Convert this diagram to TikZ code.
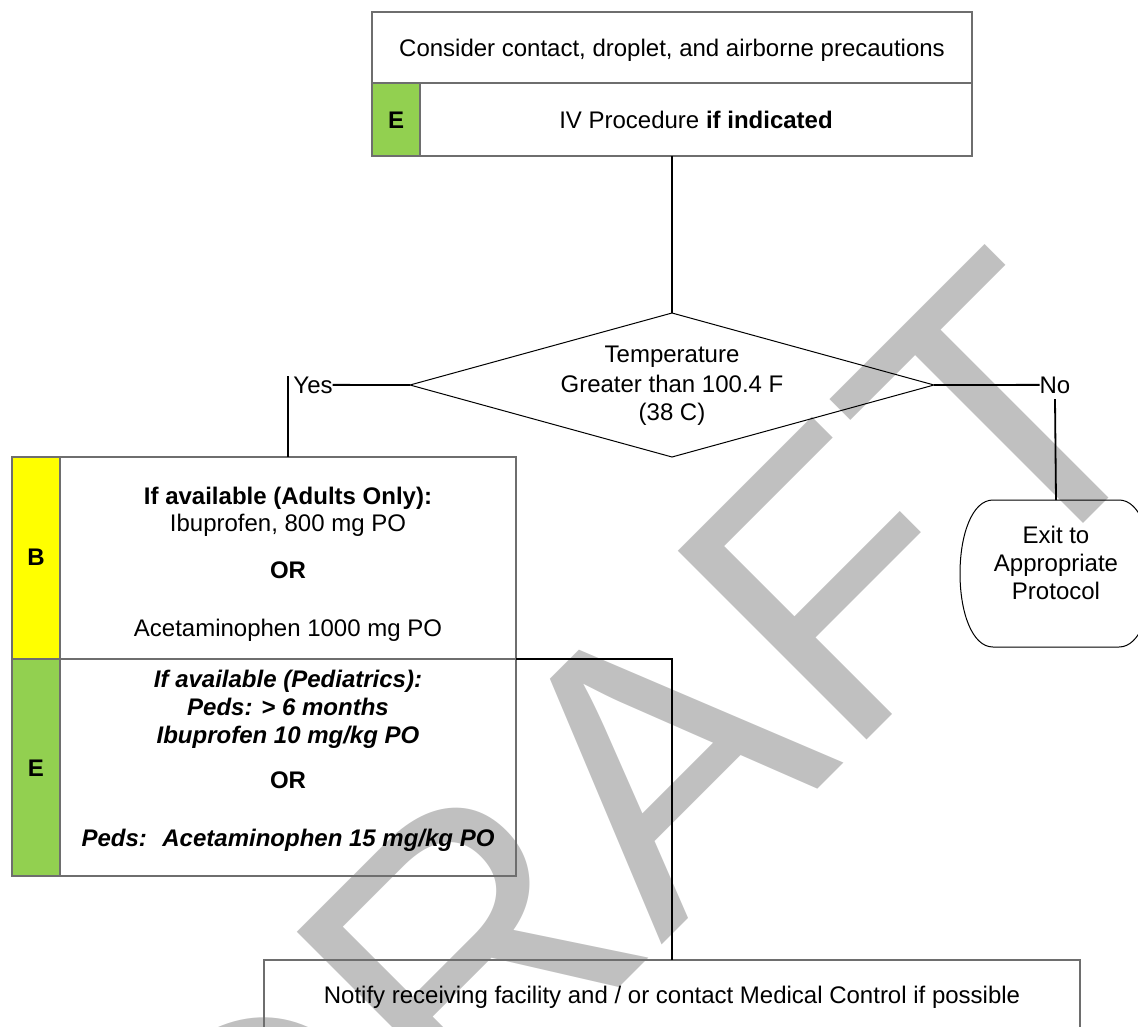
\documentclass[tikz,border=0pt]{standalone}
\usepackage{fontspec}
\setmainfont{Liberation Sans}
\usetikzlibrary{shapes.geometric,calc}
\definecolor{boxgray}{HTML}{6E6E6E}
\definecolor{egreen}{HTML}{92D050}
\definecolor{byellow}{HTML}{FFFF00}
\definecolor{wmgray}{HTML}{C0C0C0}
\begin{document}
\begin{tikzpicture}[x=1pt,y=-1pt,
  every node/.style={inner sep=0pt, outer sep=0pt, font=\fontsize{24}{27.6}\selectfont},
  cell/.style={draw=boxgray, line width=1.3pt, rectangle},
  conn/.style={draw=black, line width=1.8pt},
  txt/.style={anchor=base}]
\useasboundingbox (0,0) rectangle (1138,1026);
\clip (0,0) rectangle (1138,1026);
% watermark
\node[anchor=base, rotate=45, text=wmgray, font=\fontsize{388}{388}\selectfont] (wm) at (723,884) {DRAFT};
% top box
\node[cell, minimum width=600, minimum height=71] (top) at (672,47.5) {};
\node[cell, fill=egreen, minimum width=48, minimum height=73] (ecellA) at (396,119.5) {};
\node[cell, minimum width=552, minimum height=73] (ivtxt) at (696,119.5) {};
\node[txt] (t1) at (672,56) {Consider contact, droplet, and airborne precautions};
\node[txt] (t2) at (696,128) {IV Procedure \textbf{if indicated}};
\node[txt, font=\fontsize{24}{27.6}\selectfont\bfseries] (eA) at (396,128.6) {E};
% decision
\node[draw, shape=diamond, line width=1pt, minimum width=524, minimum height=144] (dia) at (672,385) {};
\node[txt] (d1) at (672,362) {Temperature};
\node[txt] (d2) at (672,392) {Greater than 100.4 F};
\node[txt] (d3) at (672,420) {(38 C)};
\node[txt] (yes) at (313,393) {Yes};
\node[txt] (no) at (1055,393) {No};
% exit
\node[minimum width=192, minimum height=147] (exit) at (1056,573.5) {};
\draw[line width=1pt] (993,500) -- (1119,500) .. controls (1140,500) and (1152,535) .. (1152,573.5)
  .. controls (1152,612) and (1140,647) .. (1119,647) -- (993,647)
  .. controls (972,647) and (960,612) .. (960,573.5)
  .. controls (960,535) and (972,500) .. (993,500) -- cycle;
\node[txt] (x1) at (1056,543) {Exit to};
\node[txt] (x2) at (1056,571) {Appropriate};
\node[txt] (x3) at (1056,599) {Protocol};
% left boxes
\node[cell, fill=byellow, minimum width=48, minimum height=202] (bcell) at (36,558) {};
\node[cell, minimum width=456, minimum height=202] (btxt) at (288,558) {};
\node[cell, fill=egreen, minimum width=48, minimum height=217] (ecell) at (36,767.5) {};
\node[cell, minimum width=456, minimum height=217] (etxt) at (288,767.5) {};
\node[txt, font=\fontsize{24}{27.6}\selectfont\bfseries] (bl) at (36,565.6) {B};
\node[txt, font=\fontsize{24}{27.6}\selectfont\bfseries] (el) at (36,776) {E};
\node[txt] (b1) at (288,504) {\textbf{If available (Adults Only):}};
\node[txt] (b2) at (288,531.5) {Ibuprofen, 800 mg PO};
\node[txt] (b3) at (288,578) {\textbf{OR}};
\node[txt] (b4) at (288,636) {Acetaminophen 1000 mg PO};
\node[txt] (e1) at (288,687) {\textbf{\itshape If available (Pediatrics):}};
\node[txt] (e2) at (288,715) {\textbf{\itshape Peds: > 6 months}};
\node[txt] (e3) at (288,743.5) {\textbf{\itshape Ibuprofen 10 mg/kg PO}};
\node[txt] (e4) at (288,788) {\textbf{OR}};
\node[txt] (e5) at (288,846) {\textbf{\itshape Peds:~ Acetaminophen 15 mg/kg PO}};
% bottom box
\node[cell, minimum width=816, minimum height=120] (bot) at (672,1020) {};
\node[txt] (bt) at (672,1003.5) {Notify receiving facility and / or contact Medical Control if possible};
% connectors
\draw[conn] (dia.north |- ivtxt.south) -- (dia.north);
\draw[conn] (dia.west) -- (yes.east);
\draw[conn] (yes.north west -| btxt.north) -- (btxt.north);
\draw[conn] (dia.east) -- (no.west);
\draw[conn] ([yshift=-6pt]no.south) -- (exit.north);
\draw[conn] (etxt.north east) -| (dia.south |- bot.north);
\end{tikzpicture}
\end{document}
